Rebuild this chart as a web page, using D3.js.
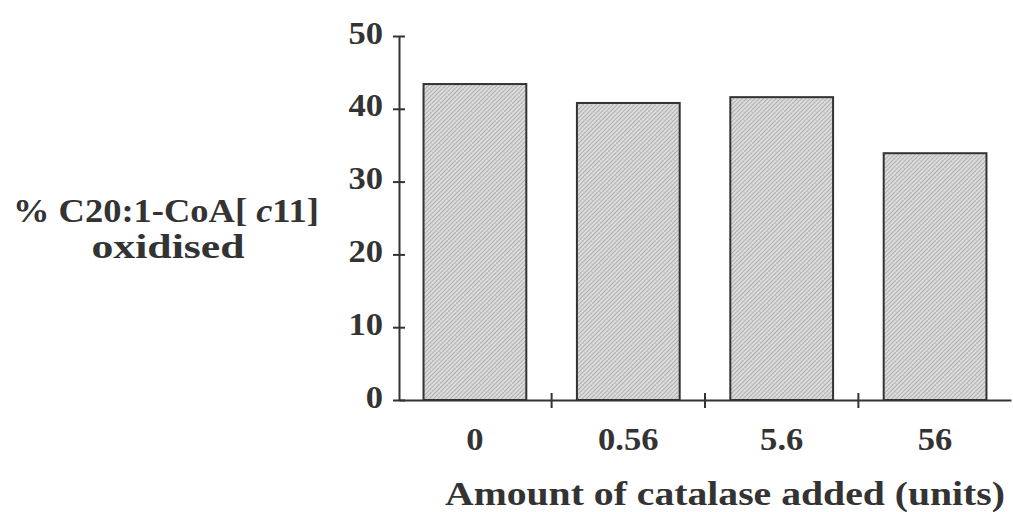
<!DOCTYPE html>
<html><head><meta charset="utf-8">
<script src="https://cdn.jsdelivr.net/npm/d3@7"></script>
<style>body{margin:0;background:#fff}svg{display:block}text{font-family:"Liberation Serif","Times New Roman",serif;font-weight:bold;fill:#333}</style>
</head><body>
<script>
const categories = ["0", "0.56", "5.6", "56"];
const values = [43.4, 40.8, 41.6, 33.9];
const yTicks = [0, 10, 20, 30, 40, 50];
const xTitle = "Amount of catalase added (units)";
const yTitle1 = "% C20:1-CoA[ ";
const yTitleItalic = "c";
const yTitle2 = "11]";
const yTitleLine2 = "oxidised";

const W = 1013, H = 512;
const svg = d3.select("body").append("svg").attr("width", W).attr("height", H);
const defs = svg.append("defs");
const pat = defs.append("pattern").attr("id","hatch").attr("patternUnits","userSpaceOnUse")
  .attr("width",3).attr("height",3).attr("patternTransform","rotate(45)");
pat.append("rect").attr("width",3).attr("height",3).attr("fill","#dcdcdc");
pat.append("line").attr("x1",0).attr("y1",0).attr("x2",0).attr("y2",3).attr("stroke","#8f8f8f").attr("stroke-width",1.2);

const x = d3.scaleBand().domain(categories).range([399, 1011]).paddingInner(0.33).paddingOuter(0.16);
const y = d3.scaleLinear().domain([0, 50]).range([400, 36]);

// bars
svg.selectAll("rect.bar").data(values).enter().append("rect").attr("class","bar")
  .attr("x",(d,i)=>x(categories[i])).attr("width",x.bandwidth())
  .attr("y",d=>y(d)).attr("height",d=>y(0)-y(d))
  .attr("fill","url(#hatch)").attr("stroke","#333").attr("stroke-width",2);

// y axis
const ya = svg.append("g").attr("transform","translate(399,0)")
  .call(d3.axisLeft(y).tickValues(yTicks).tickSize(0).tickPadding(16));
ya.select(".domain").attr("stroke","#333").attr("stroke-width",2);
ya.selectAll("text").style("font-size","32px").attr("dy","0.22em");
ya.selectAll(".tick").append("line").attr("x1",-6).attr("x2",6).attr("stroke","#333").attr("stroke-width",2);

// x axis
const xa = svg.append("g").attr("transform","translate(0,400)")
  .call(d3.axisBottom(x).tickSize(0).tickPadding(27));
xa.select(".domain").attr("stroke","#333").attr("stroke-width",2);
xa.selectAll("text").style("font-size","32px").attr("dy","0.71em");
const step = x.step();
xa.selectAll(".tick").filter((d,i)=>i>0).append("line")
  .attr("x1",-step/2).attr("x2",-step/2).attr("y1",-7).attr("y2",8).attr("stroke","#333").attr("stroke-width",2);

function stretch(sel, f){ sel.each(function(){ const l=this.getComputedTextLength(); d3.select(this).attr("textLength", l*f).attr("lengthAdjust","spacingAndGlyphs"); }); }
stretch(ya.selectAll("text"), 1.08);
stretch(xa.selectAll("text"), 1.08);

// titles
svg.append("text").attr("x",725).attr("y",505).attr("text-anchor","middle").style("font-size","33px")
  .attr("textLength",560).attr("lengthAdjust","spacingAndGlyphs").text(xTitle);
const t1 = svg.append("text").attr("x",166).attr("y",222).attr("text-anchor","middle").style("font-size","33px")
  .attr("textLength",306).attr("lengthAdjust","spacingAndGlyphs");
t1.append("tspan").text(yTitle1);
t1.append("tspan").style("font-style","italic").text(yTitleItalic);
t1.append("tspan").text(yTitle2);
svg.append("text").attr("x",168).attr("y",258).attr("text-anchor","middle").style("font-size","33px")
  .attr("textLength",153).attr("lengthAdjust","spacingAndGlyphs").text(yTitleLine2);
</script>
</body></html>
